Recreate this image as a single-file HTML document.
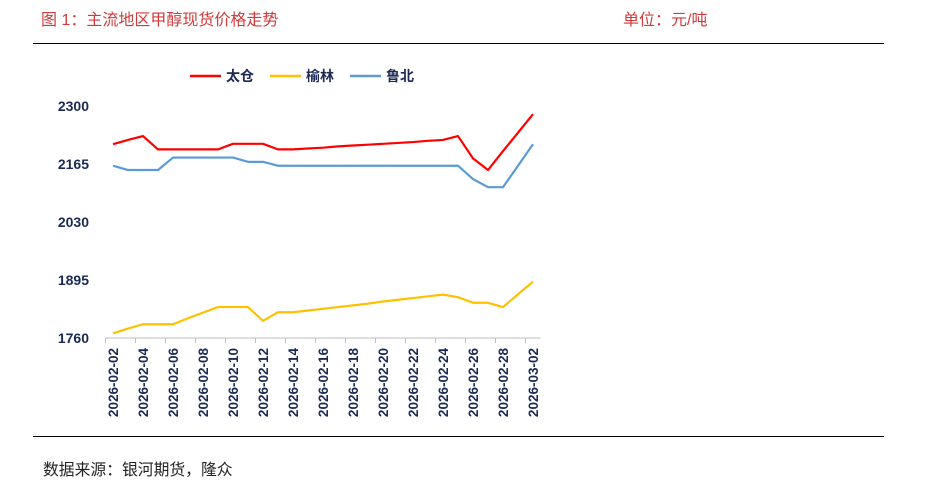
<!DOCTYPE html>
<html><head><meta charset="utf-8">
<style>
body{margin:0;width:940px;height:480px;background:#fff;overflow:hidden;font-family:"Liberation Sans","Noto Sans CJK SC",sans-serif;}
.t{position:absolute;font-size:16px;color:#d03a3a;}
.hr{position:absolute;left:33px;width:851px;height:1px;background:#000;}
svg{position:absolute;left:0;top:0;}
</style></head><body>
<div class="t" style="left:41px;top:6px">图 1：主流地区甲醇现货价格走势</div>
<div class="t" style="left:623px;top:6px">单位：元/吨</div>
<div class="hr" style="top:43px"></div>
<div class="hr" style="top:436px"></div>
<div style="position:absolute;left:43px;top:457px;font-size:15.8px;color:#222">数据来源：银河期货，隆众</div>
<svg id="c" width="940" height="480"></svg>
<script>
const dates=["2026-02-02","2026-02-03","2026-02-04","2026-02-05","2026-02-06","2026-02-07","2026-02-08","2026-02-09","2026-02-10","2026-02-11","2026-02-12","2026-02-13","2026-02-14","2026-02-15","2026-02-16","2026-02-17","2026-02-18","2026-02-19","2026-02-20","2026-02-21","2026-02-22","2026-02-23","2026-02-24","2026-02-25","2026-02-26","2026-02-27","2026-02-28","2026-03-01","2026-03-02"];
const taicang=[2211,2221,2230,2199,2199,2199,2199,2199,2212,2212,2212,2199,2199,2201,2203,2206,2208,2210,2212,2214,2216,2219,2221,2230,2178,2151,2195,2238,2281];
const yulin=[1771,1782,1792,1792,1792,1806,1819,1832,1832,1832,1800,1820,1820,1824,1828,1832,1836,1840,1845,1849,1853,1857,1861,1855,1842,1842,1832,1862,1891];
const lubei=[2161,2151,2151,2151,2180,2180,2180,2180,2180,2170,2170,2161,2161,2161,2161,2161,2161,2161,2161,2161,2161,2161,2161,2161,2130,2111,2111,2161,2211];
const yTicks=[1760,1895,2030,2165,2300];
const NS="http://www.w3.org/2000/svg";
const svg=document.getElementById('c');
const X0=105.5,STEP=15,Y0=338,YT=106,VMIN=1760,VMAX=2300;
const xs=i=>X0+STEP*(i+0.5);
const ys=v=>Y0-(v-VMIN)/(VMAX-VMIN)*(Y0-YT);
function mk(t,a){const e=document.createElementNS(NS,t);for(const k in a)e.setAttribute(k,a[k]);svg.appendChild(e);return e;}
yTicks.forEach(v=>{const e=mk('text',{x:89,y:ys(v)+5,'text-anchor':'end','font-size':14,'font-weight':'bold',fill:'#1b2a55'});e.textContent=v;

});
const ax=mk('line',{x1:X0,x2:X0+STEP*dates.length,y1:Y0,y2:Y0,stroke:'#bfbfbf','stroke-width':1});


for(let i=0;i<=dates.length;i+=2){const t=mk('line',{x1:X0+STEP*i,x2:X0+STEP*i,y1:Y0,y2:Y0+5,stroke:'#bfbfbf'});

}
dates.forEach((d,i)=>{if(i%2)return;const x=xs(i)+5,y=348;const e=mk('text',{x:x,y:y,'text-anchor':'end','font-size':13.5,'font-weight':'bold',fill:'#1b2a55',transform:`rotate(-90 ${x} ${y})`});e.textContent=d;

});
const series=[[taicang,'#ff0000','taicang-line'],[yulin,'#ffc000','yulin-line'],[lubei,'#5b9bd5','lubei-line']];
series.forEach(([d,c,n])=>{const p=mk('polyline',{points:d.map((v,i)=>xs(i)+','+ys(v)).join(' '),fill:'none',stroke:c,'stroke-width':2.2,'stroke-linejoin':'round'});

});
const leg=[['太仓','#ff0000',190],['榆林','#ffc000',270],['鲁北','#5b9bd5',350]];
leg.forEach(([l,c,x])=>{const ln=mk('line',{x1:x,x2:x+31,y1:76,y2:76,stroke:c,'stroke-width':2.5});


const t=mk('text',{x:x+36,y:81,'font-size':14,'font-weight':'bold',fill:'#1b2a55'});t.textContent=l;

});
</script>
</body></html>
